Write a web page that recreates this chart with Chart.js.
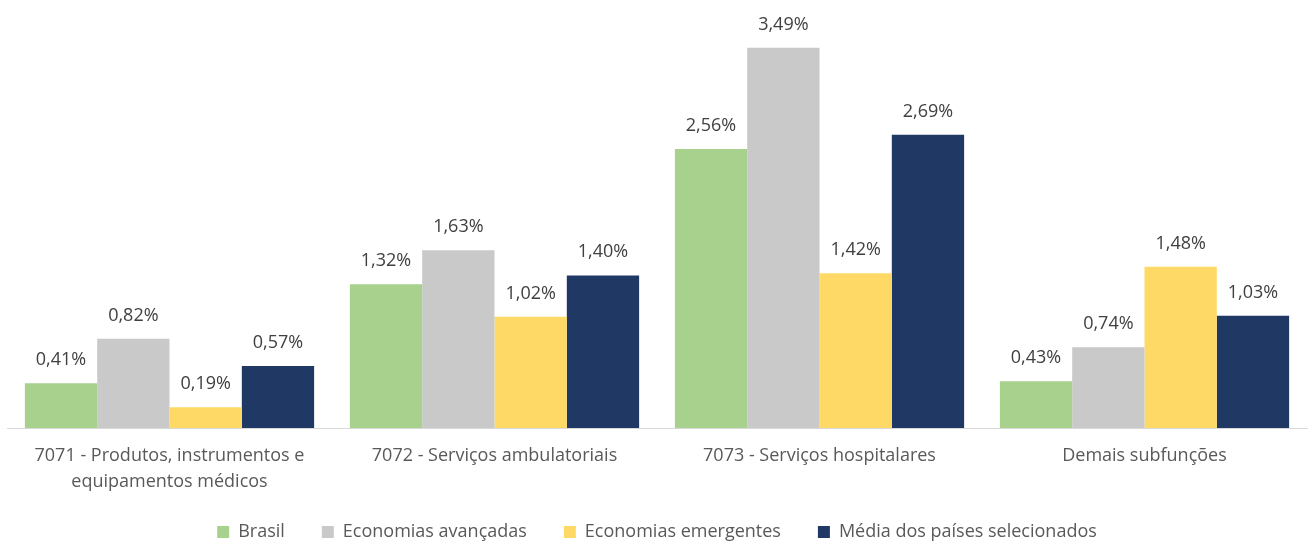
<!DOCTYPE html>
<html>
<head>
<meta charset="utf-8">
<script src="https://cdn.jsdelivr.net/npm/chart.js@4/dist/chart.umd.min.js"></script>
<style>
  html, body { margin: 0; padding: 0; background: #fff; }
  #wrap { width: 1312px; height: 543px; }
</style>
</head>
<body>
<div id="wrap"><canvas id="barChart"></canvas></div>
<script>
const categories = [
    ['7071 - Produtos, instrumentos e', 'equipamentos médicos'],
    '7072 - Serviços ambulatoriais',
    '7073 - Serviços hospitalares',
    'Demais subfunções'
];
const seriesNames = ['Brasil', 'Economias avançadas', 'Economias emergentes', 'Média dos países selecionados'];
const brasil = [0.41, 1.32, 2.56, 0.43];
const avancadas = [0.82, 1.63, 3.49, 0.74];
const emergentes = [0.19, 1.02, 1.42, 1.48];
const media = [0.57, 1.40, 2.69, 1.03];
const colors = ['#A9D18E', '#C9C9C9', '#FFD966', '#203864'];

const fontName = '"Open Sans", Lato, sans-serif';

// etiquetas de valor acima das barras
const valueLabels = {
    id: 'valueLabels',
    afterDatasetsDraw(chart) {
        const ctx = chart.ctx;
        ctx.save();
        ctx.font = '18px ' + fontName;
        ctx.fillStyle = '#404040';
        ctx.textAlign = 'center';
        ctx.textBaseline = 'alphabetic';
        chart.data.datasets.forEach((ds, i) => {
            chart.getDatasetMeta(i).data.forEach((bar, j) => {
                let txt = ds.data[j].toFixed(2).replace('.', ',') + '%';
                ctx.fillText(txt, bar.x, bar.y - 18);
            });
        });
        ctx.restore();
    }
};

// legenda com espaço largo entre itens mas altura fixa
const legendHeight = {
    id: 'legendHeight',
    afterInit(chart) {
        const origFit = chart.legend.fit;
        chart.legend.fit = function () {
            origFit.call(this);
            this.height = 57;
        };
    },
    afterLayout(chart) {
        // deixa a segunda linha do rótulo sem corte
        const x = chart.scales.x;
        x.bottom = chart.height;
        x.height = x.bottom - x.top;
    }
};

let ctxBar = document.getElementById('barChart').getContext('2d');
let barChart = new Chart(ctxBar, {
    type: 'bar',
    data: {
        labels: categories,
        datasets: [brasil, avancadas, emergentes, media].map((d, i) => ({
            label: seriesNames[i],
            data: d,
            backgroundColor: colors[i],
            borderWidth: 0,
            categoryPercentage: 0.89,
            barPercentage: 1
        }))
    },
    options: {
        responsive: true,
        maintainAspectRatio: false,
        animation: false,
        layout: {
            padding: { top: 3, left: 7, right: 5, bottom: 0 }
        },
        plugins: {
            tooltip: { enabled: false },
            legend: {
                position: 'bottom',
                labels: {
                    boxWidth: 12,
                    boxHeight: 12,
                    padding: 37,
                    color: '#595959',
                    font: { family: fontName, size: 18 }
                }
            }
        },
        scales: {
            x: {
                grid: { display: false, drawTicks: false },
                border: { color: '#D9D9D9', width: 1 },
                ticks: {
                    color: '#595959',
                    padding: 15,
                    maxRotation: 0,
                    autoSkip: false,
                    font: { family: fontName, size: 18, lineHeight: 1.45 }
                },
                afterFit(scale) {
                    scale.height = 58;
                }
            },
            y: {
                display: false,
                min: 0,
                max: 3.9
            }
        }
    },
    plugins: [valueLabels, legendHeight]
});
</script>
</body>
</html>
